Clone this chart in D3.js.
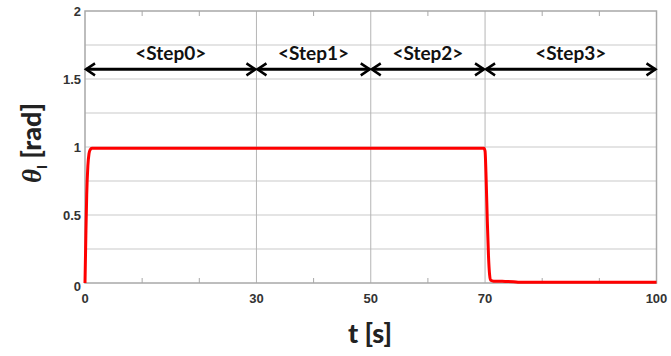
<!DOCTYPE html>
<html>
<head>
<meta charset="utf-8">
<script src="https://cdn.jsdelivr.net/npm/d3@7"></script>
<style>
  html, body { margin: 0; padding: 0; background: #fff; }
  svg { display: block; }
</style>
</head>
<body>
<svg id="chart" width="671" height="356"></svg>
<script>
// Joint angle response over time (seconds, radians)
const timeS = [0, 0.15, 0.3, 0.5, 0.7, 0.9, 1.2, 2, 5, 30, 50, 69.8, 70, 70.2, 70.4, 70.6, 70.8, 71.0, 71.5, 73, 75, 76, 80, 90, 100];
const thetaRad = [0, 0.35, 0.65, 0.86, 0.95, 0.98, 0.99, 0.99, 0.99, 0.99, 0.99, 0.99, 0.97, 0.75, 0.45, 0.2, 0.06, 0.02, 0.013, 0.012, 0.01, 0.006, 0.006, 0.006, 0.006];

// Phase boundaries and labels
const stepBounds = [0, 30, 50, 70, 100];
const stepLabels = ["<Step0>", "<Step1>", "<Step2>", "<Step3>"];
const stepLevel = Math.PI / 2;

// Axis ticks
const xTickLabels = [0, 30, 50, 70, 100];
const xMinorTicks = [10, 20, 40, 60, 80, 90];
const yTickLabels = [0, 0.5, 1, 1.5, 2];
const yGridLines = [0.25, 0.5, 0.75, 1, 1.25, 1.5, 1.75];

const svg = d3.select("#chart");
const x = d3.scaleLinear().domain([0, 100]).range([85, 656.5]);
const y = d3.scaleLinear().domain([0, 2]).range([283, 11]);

const grid = "#c9c9c9";
const frame = "#a8a8a8";
const titleFont = "Lato, 'Open Sans', sans-serif";

// horizontal grid
svg.append("g").selectAll("line").data(yGridLines).join("line")
  .attr("x1", x(0)).attr("x2", x(100))
  .attr("y1", d => y(d)).attr("y2", d => y(d))
  .attr("stroke", grid).attr("stroke-width", 1);

// vertical grid at labelled times
svg.append("g").selectAll("line").data([30, 50, 70]).join("line")
  .attr("x1", d => x(d)).attr("x2", d => x(d))
  .attr("y1", y(0)).attr("y2", y(2))
  .attr("stroke", "#b5b5b5").attr("stroke-width", 1);

// minor ticks on bottom and top edges
const tickG = svg.append("g");
tickG.selectAll("line.b").data(xMinorTicks).join("line").attr("class", "b")
  .attr("x1", d => x(d)).attr("x2", d => x(d))
  .attr("y1", y(0)).attr("y2", y(0) - 5)
  .attr("stroke", frame);
tickG.selectAll("line.t").data(xMinorTicks).join("line").attr("class", "t")
  .attr("x1", d => x(d)).attr("x2", d => x(d))
  .attr("y1", y(2)).attr("y2", y(2) + 5)
  .attr("stroke", frame);

// frame
svg.append("rect")
  .attr("x", x(0)).attr("y", y(2))
  .attr("width", x(100) - x(0)).attr("height", y(0) - y(2))
  .attr("fill", "none").attr("stroke", frame).attr("stroke-width", 1.5);

// tick labels
const tickFont = "Arial, 'Liberation Sans', sans-serif";
svg.append("g").selectAll("text").data(xTickLabels).join("text")
  .attr("x", d => x(d)).attr("y", 303)
  .attr("text-anchor", "middle")
  .attr("font-family", tickFont).attr("font-size", 13).attr("font-weight", "bold")
  .attr("fill", "#333")
  .text(d => d);

svg.append("g").selectAll("text").data(yTickLabels).join("text")
  .attr("x", 81).attr("y", d => y(d) + (d === 0 ? 8 : 5))
  .attr("text-anchor", "end")
  .attr("font-family", tickFont).attr("font-size", 13).attr("font-weight", "bold")
  .attr("fill", "#333")
  .text(d => d);

// response curve
const line = d3.line().x((d, i) => x(timeS[i])).y(d => y(d)).curve(d3.curveMonotoneX);
svg.append("path")
  .datum(thetaRad)
  .attr("d", line)
  .attr("fill", "none").attr("stroke", "#ff0000").attr("stroke-width", 3)
  .attr("stroke-linejoin", "round");

// phase arrows
const arrowG = svg.append("g");
const ay = y(stepLevel);
const head = 10, half = 6;
const segs = d3.pairs(stepBounds);
segs.forEach(([a, b], i) => {
  const x1 = x(a), x2 = x(b);
  arrowG.append("line")
    .attr("x1", x1 + 1).attr("x2", x2 - 1).attr("y1", ay).attr("y2", ay)
    .attr("stroke", "#000").attr("stroke-width", 3);
  arrowG.append("path")
    .attr("d", `M${x1 + head},${ay - half} L${x1 + 1},${ay} L${x1 + head},${ay + half}`)
    .attr("fill", "none").attr("stroke", "#000").attr("stroke-width", 2.5)
    .attr("stroke-linejoin", "miter");
  arrowG.append("path")
    .attr("d", `M${x2 - head},${ay - half} L${x2 - 1},${ay} L${x2 - head},${ay + half}`)
    .attr("fill", "none").attr("stroke", "#000").attr("stroke-width", 2.5)
    .attr("stroke-linejoin", "miter");
  arrowG.append("text")
    .attr("x", (x1 + x2) / 2).attr("y", ay - 9)
    .attr("text-anchor", "middle")
    .attr("font-family", titleFont)
    .attr("font-size", 19).attr("font-weight", "bold")
    .attr("fill", "#111")
    .text(stepLabels[i]);
});

// axis titles
svg.append("text")
  .attr("x", 370).attr("y", 343)
  .attr("text-anchor", "middle")
  .attr("font-family", titleFont)
  .attr("font-size", 27).attr("font-weight", "900")
  .attr("fill", "#222")
  .text("t [s]");

const yt = svg.append("text")
  .attr("transform", "translate(41,143) rotate(-90)")
  .attr("text-anchor", "middle")
  .attr("font-family", titleFont)
  .attr("font-size", 27).attr("font-weight", "900")
  .attr("fill", "#222");
yt.append("tspan").attr("font-style", "italic").attr("font-family", "'Liberation Serif', serif").attr("font-weight", "bold").text("θ");
yt.append("tspan").attr("font-size", 13).attr("dy", 6).text("I");
yt.append("tspan").attr("dy", -6).text("  [rad]");
</script>
</body>
</html>
